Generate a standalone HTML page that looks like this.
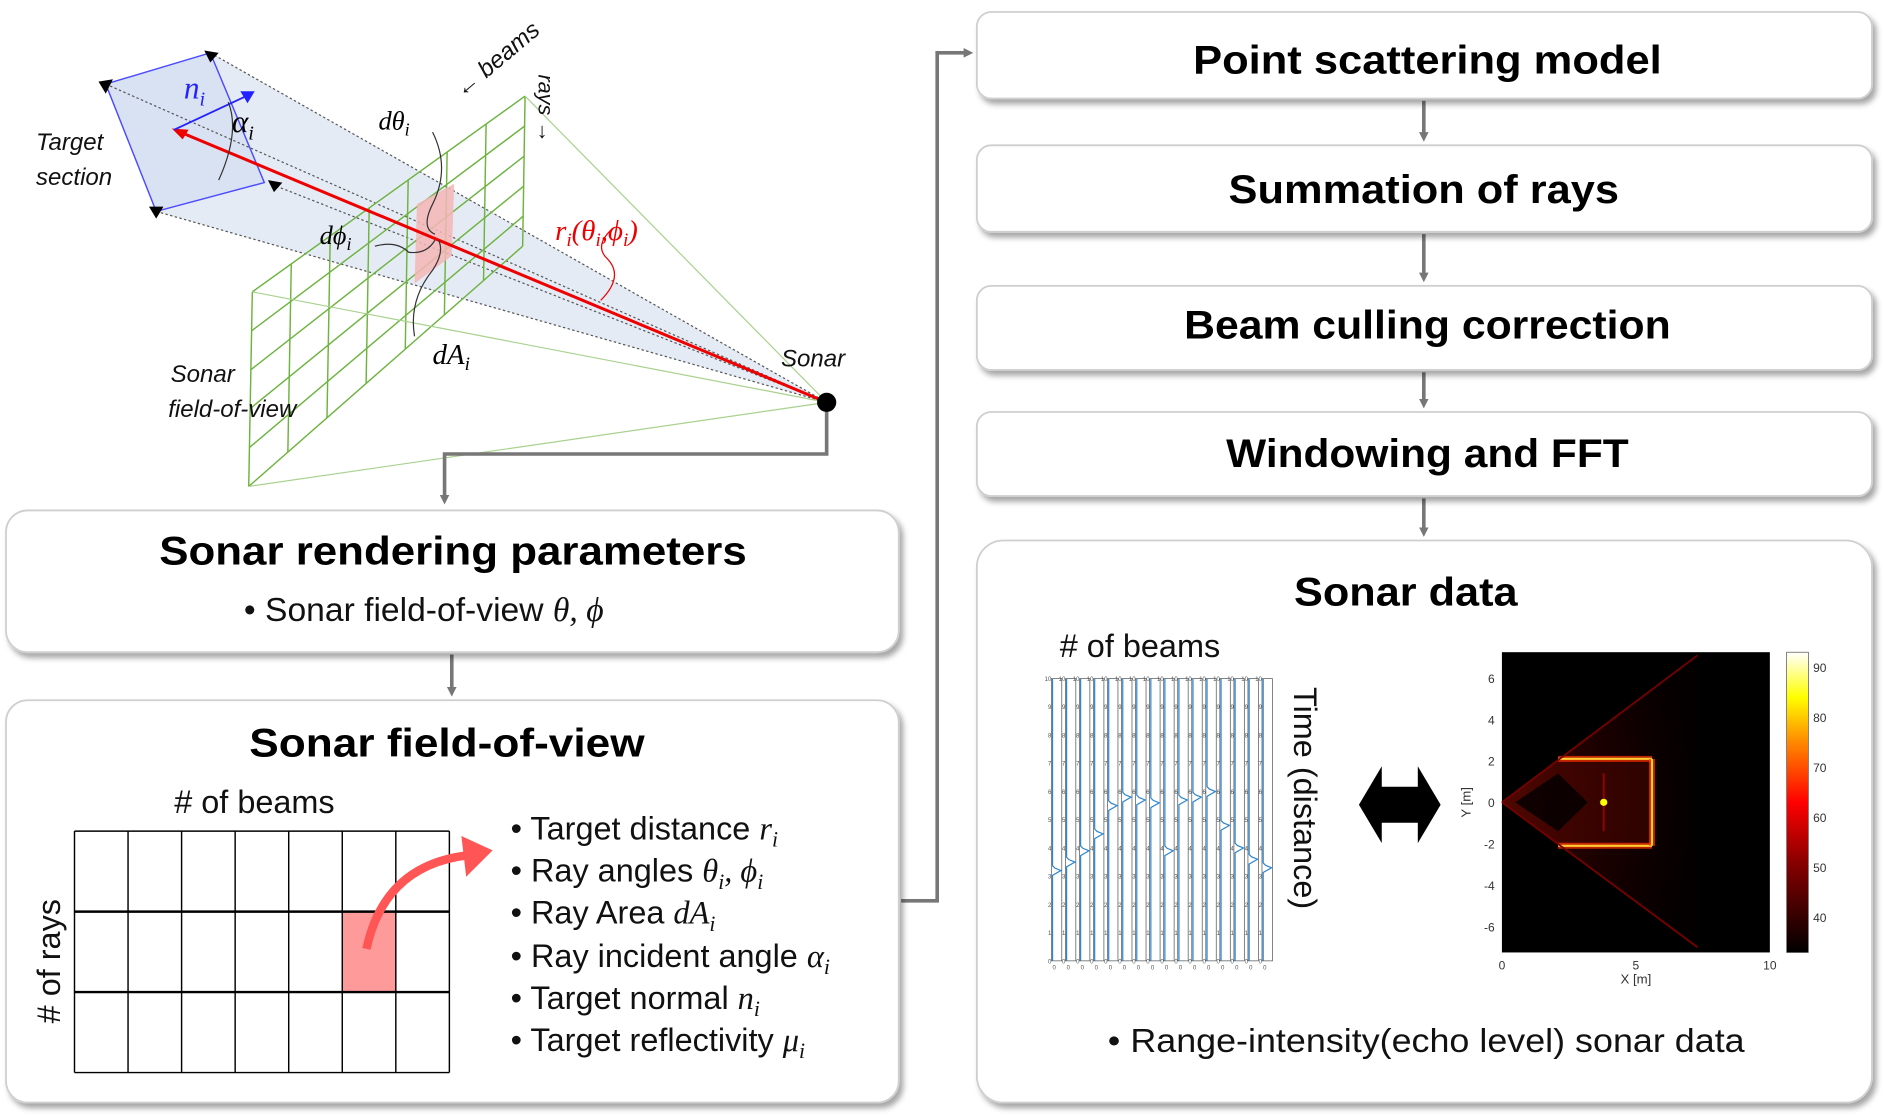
<!DOCTYPE html>
<html><head><meta charset="utf-8"><style>
html,body{margin:0;padding:0;background:#fff;}
svg{display:block;}
.t{font-family:"Liberation Sans",sans-serif;font-weight:bold;fill:#000;text-anchor:middle;}
.r{font-family:"Liberation Sans",sans-serif;fill:#111;}
.m{font-family:"Liberation Serif",serif;font-style:italic;}
</style></head><body>
<svg id="s" width="1884" height="1117" viewBox="0 0 1568 930" preserveAspectRatio="none" xmlns="http://www.w3.org/2000/svg">
<defs>
<filter id="sh" x="-5%" y="-10%" width="110%" height="125%"><feDropShadow dx="3" dy="4" stdDeviation="2.5" flood-color="#000" flood-opacity="0.35"/></filter>
<marker id="ah" markerWidth="8" markerHeight="8" refX="4" refY="4" orient="auto" markerUnits="userSpaceOnUse" viewBox="0 0 8 8"><path d="M0,0 L8,4 L0,8 z" fill="#777"/></marker>
<linearGradient id="cb" x1="0" y1="1" x2="0" y2="0"><stop offset="0" stop-color="#000"/><stop offset="0.3" stop-color="#800"/><stop offset="0.5" stop-color="#f00"/><stop offset="0.7" stop-color="#f80"/><stop offset="0.85" stop-color="#ff0"/><stop offset="1" stop-color="#fff"/></linearGradient>
<radialGradient id="wg" cx="0" cy="0.5" r="1"><stop offset="0" stop-color="#a01000" stop-opacity="0.7"/><stop offset="0.6" stop-color="#500" stop-opacity="0.45"/><stop offset="1" stop-color="#200" stop-opacity="0.2"/></radialGradient>
</defs>

<g>
<polygon points="88,70 175,44 688,335" fill="#dfe6f3" opacity="0.8"/>
<polygon points="88,70 130,176 688,335" fill="#dfe6f3" opacity="0.8"/>
<polygon points="88,70 175,44 220,152 130,176" fill="#d9e2f3" stroke="#4b4bff" stroke-width="1.2"/>
<g stroke="#555" stroke-width="1" stroke-dasharray="2,2" fill="none">
<line x1="88" y1="70" x2="688" y2="335"/><line x1="175" y1="44" x2="688" y2="335"/><line x1="130" y1="176" x2="688" y2="335"/><line x1="230" y1="155" x2="688" y2="335"/>
</g>
<g fill="#000"><polygon points="82,68 94,66 88,78"/><polygon points="170,42 182,44 175,52"/><polygon points="124,172 136,172 130,182"/><polygon points="223,150 235,152 228,160"/></g>
<g id="grid3d" stroke="#6cb33f" stroke-width="1.2" fill="none"></g>
<g stroke="#a9d18e" stroke-width="1" fill="none"><line x1="437" y1="80" x2="688" y2="335"/><line x1="207" y1="405" x2="688" y2="335"/><line x1="210" y1="243" x2="688" y2="335"/></g>
<polygon points="347,170 378,153 376,213 345,236" fill="#f4b6b6" opacity="0.85"/>
<line x1="688" y1="335" x2="150" y2="110" stroke="#e00" stroke-width="2.5"/>
<polygon points="143,107 157,108 152,116" fill="#e00"/>
<line x1="145" y1="108" x2="205" y2="80" stroke="#22f" stroke-width="1.5"/>
<polygon points="212,76 200,76 206,86" fill="#22f"/>
<path d="M190,85 Q200,110 182,150" stroke="#333" fill="none" stroke-width="1"/>
<path d="M360,110 Q375,140 360,170 Q350,190 362,195" stroke="#333" fill="none" stroke-width="1"/>
<path d="M312,205 Q330,200 340,210 Q355,212 362,200" stroke="#333" fill="none" stroke-width="1"/>
<path d="M345,280 Q340,250 360,225 Q370,210 365,200" stroke="#333" fill="none" stroke-width="1"/>
<path d="M500,250 Q520,230 505,215 Q495,205 508,192" stroke="#e00" fill="none" stroke-width="1"/>
<circle cx="688" cy="335" r="8" fill="#000"/>
<text x="153" y="82" class="m" fill="#22f" font-size="26">n<tspan font-size="17" dy="6">i</tspan></text>
<text x="193" y="110" class="m" font-size="26">α<tspan font-size="17" dy="6">i</tspan></text>
<text x="30" y="125" class="r" font-style="italic" font-size="20">Target</text>
<text x="30" y="154" class="r" font-style="italic" font-size="20">section</text>
<text x="315" y="108" class="m" font-size="22">dθ<tspan font-size="15" dy="5">i</tspan></text>
<text x="266" y="203" class="m" font-size="22">dϕ<tspan font-size="15" dy="5">i</tspan></text>
<text x="360" y="303" class="m" font-size="24">dA<tspan font-size="16" dy="5">i</tspan></text>
<text x="462" y="200" class="m" fill="#e00" font-size="24">r<tspan font-size="16" dy="5">i</tspan><tspan dy="-5">(θ</tspan><tspan font-size="16" dy="5">i</tspan><tspan dy="-5">,ϕ</tspan><tspan font-size="16" dy="5">i</tspan><tspan dy="-5">)</tspan></text>
<text x="650" y="305" class="r" font-style="italic" font-size="20">Sonar</text>
<text x="142" y="318" class="r" font-style="italic" font-size="20">Sonar</text>
<text x="140" y="347" class="r" font-style="italic" font-size="20">field-of-view</text>
<text x="385" y="82" class="r" font-style="italic" font-size="20" fill="#385723" transform="rotate(-40 385 82)">← beams</text>
<text x="448" y="62" class="r" font-style="italic" font-size="18" fill="#385723" transform="rotate(90 448 62)">rays →</text>
</g>

<g stroke="#777" stroke-width="3" fill="none">
<polyline points="688,343 688,378 370,378 370,416" marker-end="url(#ah)"/>
<line x1="376" y1="545" x2="376" y2="576" marker-end="url(#ah)"/>
<polyline points="750,750 780,750 780,44 806,44" marker-end="url(#ah)"/>
<line x1="1185" y1="84" x2="1185" y2="114" marker-end="url(#ah)"/>
<line x1="1185" y1="195" x2="1185" y2="231" marker-end="url(#ah)"/>
<line x1="1185" y1="310" x2="1185" y2="336" marker-end="url(#ah)"/>
<line x1="1185" y1="415" x2="1185" y2="443" marker-end="url(#ah)"/>
</g>

<g fill="#fff" stroke="#cfcfcf" stroke-width="1.5" filter="url(#sh)">
<rect x="813" y="10" width="745" height="72" rx="12"/>
<rect x="813" y="121" width="745" height="72" rx="12"/>
<rect x="813" y="238" width="745" height="70" rx="12"/>
<rect x="813" y="343" width="745" height="70" rx="12"/>
<rect x="813" y="450" width="745" height="468" rx="22"/>
<rect x="5" y="425" width="743" height="118" rx="18"/>
<rect x="5" y="583" width="743" height="335" rx="18"/>
</g>
<text class="t" x="1188" y="61" font-size="33" textLength="390" lengthAdjust="spacingAndGlyphs">Point scattering model</text>
<text class="t" x="1185" y="169" font-size="33" textLength="325" lengthAdjust="spacingAndGlyphs">Summation of rays</text>
<text class="t" x="1188" y="282" font-size="33" textLength="405" lengthAdjust="spacingAndGlyphs">Beam culling correction</text>
<text class="t" x="1188" y="389" font-size="33" textLength="335" lengthAdjust="spacingAndGlyphs">Windowing and FFT</text>
<text class="t" x="1170" y="504" font-size="33" textLength="186" lengthAdjust="spacingAndGlyphs">Sonar data</text>
<text class="t" x="377" y="470" font-size="33" textLength="489" lengthAdjust="spacingAndGlyphs">Sonar rendering parameters</text>
<text class="r" x="203" y="517" font-size="28">• Sonar field-of-view <tspan class="m">θ, ϕ</tspan></text>
<text class="t" x="372" y="630" font-size="33" textLength="329" lengthAdjust="spacingAndGlyphs">Sonar field-of-view</text>
<text class="r" x="922" y="876" font-size="28" textLength="530" lengthAdjust="spacingAndGlyphs">• Range-intensity(echo level) sonar data</text>

<text class="r" x="145" y="677" font-size="27"># of beams</text>
<text class="r" x="50" y="852" font-size="27" transform="rotate(-90 50 852)"># of rays</text>
<g id="fovgrid"></g>
<path d="M305,790 Q320,720 390,712" stroke="#f55" stroke-width="7" fill="none"/>
<polygon points="410,708 384,696 388,730" fill="#f55"/>
<g class="r" font-size="27">
<text x="425" y="699">• Target distance <tspan class="m">r<tspan font-size="18" dy="6">i</tspan></tspan></text>
<text x="425" y="734">• Ray angles <tspan class="m">θ<tspan font-size="18" dy="6">i</tspan><tspan dy="-6">, ϕ</tspan><tspan font-size="18" dy="6">i</tspan></tspan></text>
<text x="425" y="769">• Ray Area <tspan class="m">dA<tspan font-size="18" dy="6">i</tspan></tspan></text>
<text x="425" y="805">• Ray incident angle <tspan class="m">α<tspan font-size="18" dy="6">i</tspan></tspan></text>
<text x="425" y="840">• Target normal <tspan class="m">n<tspan font-size="18" dy="6">i</tspan></tspan></text>
<text x="425" y="875">• Target reflectivity <tspan class="m">μ<tspan font-size="18" dy="6">i</tspan></tspan></text>
</g>

<text class="r" x="882" y="547" font-size="27"># of beams</text>
<text class="r" x="1077" y="572" font-size="27" transform="rotate(90 1077 572)">Time (distance)</text>
<g id="beams"></g>
<polygon points="1131,670 1150,638 1150,655 1180,655 1180,638 1199,670 1180,702 1180,685 1150,685 1150,702" fill="#000"/>
<g id="heat"></g>
</svg>
<script>
const NS="http://www.w3.org/2000/svg";
function mk(p,tag,a){const e=document.createElementNS(NS,tag);for(const k in a)e.setAttribute(k,a[k]);p.appendChild(e);return e;}
const g3=document.getElementById('grid3d');
const TL=[210,243],TR=[437,80],BL=[207,405],BR=[435,205];
for(let i=0;i<=7;i++){const t=i/7;mk(g3,'line',{x1:TL[0]+(TR[0]-TL[0])*t,y1:TL[1]+(TR[1]-TL[1])*t,x2:BL[0]+(BR[0]-BL[0])*t,y2:BL[1]+(BR[1]-BL[1])*t});}
for(let j=0;j<=5;j++){const t=j/5;mk(g3,'line',{x1:TL[0]+(BL[0]-TL[0])*t,y1:TL[1]+(BL[1]-TL[1])*t,x2:TR[0]+(BR[0]-TR[0])*t,y2:TR[1]+(BR[1]-TR[1])*t});}
const fg=document.getElementById('fovgrid');
const gx0=62,gx1=374,gy0=692,gy1=893,cols=7,rows=3,hiC=5,hiR=1;
const cw=(gx1-gx0)/cols,rh=(gy1-gy0)/rows;
mk(fg,'rect',{x:gx0+hiC*cw,y:gy0+hiR*rh,width:cw,height:rh,fill:'#ff9a9a'});
for(let i=0;i<=cols;i++)mk(fg,'line',{x1:gx0+i*cw,y1:gy0,x2:gx0+i*cw,y2:gy1,stroke:'#000','stroke-width':1.2});
for(let j=0;j<=rows;j++)mk(fg,'line',{x1:gx0,y1:gy0+j*rh,x2:gx1,y2:gy0+j*rh,stroke:'#000','stroke-width':(j==0||j==rows)?1.2:2});
</script>
<script>
const beamIndex=[1,2,3,4,5,6,7,8,9,10,11,12,13,14,15,16];
const beamPeaks=[3.2,3.5,3.9,4.5,5.5,5.8,5.7,5.6,3.9,5.7,5.8,6.0,4.8,4.0,3.6,3.3];
const beamTicks=[0,1,2,3,4,5,6,7,8,9,10];
const bx0=873,bx1=1060,by0=800,by1=565;
const bY=v=>by0+(by1-by0)*v/10;
const bw=(bx1-bx0)/beamIndex.length;
const bg=document.getElementById('beams');
beamIndex.forEach((b,i)=>{
 const x=bx0+i*bw;
 const r=mk(bg,'rect',{x:x+2,y:by1,width:bw-3,height:by0-by1,fill:'none',stroke:'#555','stroke-width':0.6});
 
 
 const xl=x+3, yp=bY(beamPeaks[i]);
 const p=mk(bg,'path',{d:`M${xl},${by0} L${xl},${yp+4} L${xl+7},${yp} L${xl+2},${yp-2} L${xl},${yp-4} L${xl},${by1}`,stroke:'#2d86cc','stroke-width':1,fill:'none'});
 
 
 beamTicks.forEach(t=>{const tx=mk(bg,'text',{x:x+2,y:bY(t)+2,'font-size':5,'font-family':'Liberation Sans',fill:'#555','text-anchor':'end'});tx.textContent=t;});
 const z=mk(bg,'text',{x:x+3,y:by0+7,'font-size':5,'font-family':'Liberation Sans',fill:'#555'});z.textContent='0';
});
const hx0=1250,hx1=1473,hy0=793,hy1=543;
const xMin=0,xMax=10,yMin=-7.25,yMax=7.25;
const X=v=>hx0+(hx1-hx0)*(v-xMin)/(xMax-xMin);
const Y=v=>hy0+(hy1-hy0)*(v-yMin)/(yMax-yMin);
const xTicks=[0,5,10],yTicks=[-6,-4,-2,0,2,4,6],cbTicks=[40,50,60,70,80,90];
const wallX=[2.1,5.6],wallY=[-2.1,2.1];
const fanEdge=[[7.3,7.1],[7.3,-7.0]];
const hg=document.getElementById('heat');
mk(hg,'rect',{x:hx0,y:hy1,width:hx1-hx0,height:hy0-hy1,fill:'#000'});
mk(hg,'polygon',{points:`${X(0)},${Y(0)} ${X(fanEdge[0][0])},${Y(fanEdge[0][1])} ${X(fanEdge[1][0])},${Y(fanEdge[1][1])}`,fill:'url(#wg)',opacity:0.6});
mk(hg,'polygon',{points:`${X(0)},${Y(0)} ${X(wallX[0])},${Y(wallY[1])} ${X(wallX[1])},${Y(wallY[1])} ${X(wallX[1])},${Y(wallY[0])} ${X(wallX[0])},${Y(wallY[0])}`,fill:'#6a0a00',opacity:0.35});
mk(hg,'polygon',{points:`${X(0.5)},${Y(0)} ${X(wallX[0])},${Y(1.4)} ${X(3.2)},${Y(0)} ${X(wallX[0])},${Y(-1.4)}`,fill:'#000',opacity:0.8});
const hl=[[wallX[0],wallY[1],wallX[1],wallY[1]],[wallX[0],wallY[0],wallX[1],wallY[0]],[wallX[1],wallY[0],wallX[1],wallY[1]]];
hl.forEach(s=>{mk(hg,'line',{x1:X(s[0]),y1:Y(s[1]),x2:X(s[2]),y2:Y(s[3]),stroke:'#f30','stroke-width':5,opacity:0.7});
 const w=mk(hg,'line',{x1:X(s[0]),y1:Y(s[1]),x2:X(s[2]),y2:Y(s[3]),stroke:'#ffcc33','stroke-width':1.8});
 
 });
mk(hg,'line',{x1:X(3.8),y1:Y(1.4),x2:X(3.8),y2:Y(-1.4),stroke:'#900','stroke-width':1.5});
mk(hg,'circle',{cx:X(3.8),cy:Y(0),r:3,fill:'#ff0'});
mk(hg,'line',{x1:X(0),y1:Y(0),x2:X(fanEdge[0][0]),y2:Y(fanEdge[0][1]),stroke:'#700','stroke-width':1.5});
mk(hg,'line',{x1:X(0),y1:Y(0),x2:X(fanEdge[1][0]),y2:Y(fanEdge[1][1]),stroke:'#700','stroke-width':1.5});
xTicks.forEach(t=>{const e=mk(hg,'text',{x:X(t),y:hy0+14,'font-size':10,'font-family':'Liberation Sans','text-anchor':'middle',fill:'#333'});e.textContent=t;});
yTicks.forEach(t=>{const e=mk(hg,'text',{x:hx0-6,y:Y(t)+4,'font-size':10,'font-family':'Liberation Sans','text-anchor':'end',fill:'#333'});e.textContent=t;});
const xl=mk(hg,'text',{x:(hx0+hx1)/2,y:hy0+26,'font-size':11,'font-family':'Liberation Sans','text-anchor':'middle',fill:'#333'});xl.textContent='X [m]';
const yl=mk(hg,'text',{x:1224,y:Y(0),'font-size':11,'font-family':'Liberation Sans','text-anchor':'middle',fill:'#333',transform:`rotate(-90 1224 ${Y(0)})`});yl.textContent='Y [m]';
const cbx=1487,cbw=18,cbMin=33,cbMax=93;
const CB=v=>hy0+(hy1-hy0)*(v-cbMin)/(cbMax-cbMin);
const cbr=mk(hg,'rect',{x:cbx,y:hy1,width:cbw,height:hy0-hy1,fill:'url(#cb)',stroke:'#333','stroke-width':0.5});


cbTicks.forEach(t=>{const e=mk(hg,'text',{x:cbx+cbw+4,y:CB(t)+4,'font-size':10,'font-family':'Liberation Sans',fill:'#333'});e.textContent=t;});
</script>
</body></html>
